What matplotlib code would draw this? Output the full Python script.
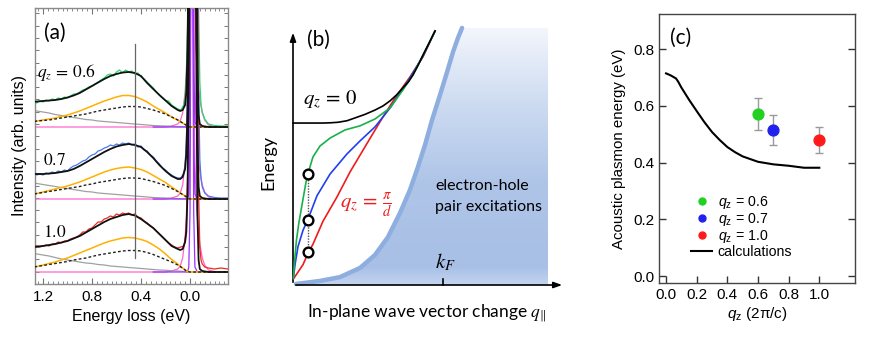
import numpy as np
import matplotlib
matplotlib.use("Agg")
import matplotlib.pyplot as plt
from matplotlib.colors import LinearSegmentedColormap
from matplotlib.lines import Line2D
from matplotlib.patches import Polygon
from matplotlib.ticker import MultipleLocator

plt.rcParams["font.family"] = ["Liberation Sans", "DejaVu Sans"]
plt.rcParams["mathtext.fontset"] = "custom"
plt.rcParams["mathtext.rm"] = "Liberation Sans"
plt.rcParams["mathtext.it"] = "Liberation Sans:italic"
plt.rcParams["mathtext.bf"] = "Liberation Sans:bold"

# ---------------- panel (a): RIXS spectra (heights above each baseline) ----------------
SPEC_LABELS = ["$q_z\\,=\\,0.6$", "$0.7$", "$1.0$"]
SPEC_OFFSET = [157, 85, 12]
DATA_COLORS = ["#27d86b", "#4a78ec", "#ee2a22"]

# data grid: every 0.025 eV down to 0.05, then the elastic line
DATA_E = list(np.round(np.arange(1.275, 0.04, -0.025), 3)) + [
    0.04, 0.03, 0.02, 0.01, 0.0, -0.02, -0.04, -0.06, -0.07, -0.08, -0.09, -0.1,
    -0.12, -0.15, -0.2, -0.25, -0.31]
DATA_06 = [25, 24, 26, 25, 27, 26, 28, 27, 29, 28, 30, 29,
           31, 33, 33, 35, 37, 38, 40, 41,
           43, 45, 47, 49, 52, 53, 51, 55,
           57, 54, 57, 55, 56, 53, 54, 50,
           48, 45, 42, 39, 35, 32, 29, 26.5,
           26, 22, 20, 18, 17, 22,
           30, 50, 100, 250, 400, 400, 400, 400, 120, 45, 22, 15, 8, 3, 1.5, 1, 1]
DATA_07 = [26, 24, 25, 24, 26, 25, 27, 26, 28, 27, 29, 28,
           31, 33, 34, 36, 38, 39, 42, 44,
           45, 48, 49, 51, 52, 54, 53, 55,
           54, 56, 55, 56, 54, 55, 52, 53,
           49, 48, 44, 42, 38, 35, 31, 29,
           26, 24, 22, 21, 21, 26,
           35, 55, 110, 250, 400, 400, 400, 400, 110, 40, 20, 12, 6, 3, 1.5, 1, 1]
DATA_10 = [25, 26, 25, 26, 27, 26, 28, 28, 30, 29, 31, 31,
           33, 34, 35, 37, 40, 40, 43, 44,
           47, 50, 50, 53, 54, 56, 55, 58,
           57, 59, 58, 59, 57, 58, 55, 54,
           51, 49, 46, 44, 41, 38, 35, 32,
           29, 27, 25, 24, 25, 26,
           32, 45, 90, 200, 400, 400, 400, 400, 80, 25, 12, 8, 5, 4, 3, 4, 3]

FIT_E = [1.27, 1.25, 1.2, 1.15, 1.1, 1.05, 1.0, 0.95, 0.9, 0.85, 0.8, 0.75, 0.7, 0.65,
         0.6, 0.55, 0.5, 0.45, 0.4, 0.35, 0.3, 0.25, 0.2, 0.15, 0.1,
         0.08, 0.06, 0.04, 0.03, 0.02, 0.01, 0.0, -0.01, -0.02, -0.03, -0.04, -0.05,
         -0.06, -0.07, -0.08, -0.1, -0.15, -0.31]
FIT_06 = [25, 25.5, 26, 26.5, 27, 28, 29.5, 31.5, 34, 37.5, 41, 44.5, 48, 51,
          53, 54.5, 55, 54, 51, 44, 38, 32, 26.5, 21, 17,
          16, 17, 22, 35, 80, 200, 400, 400, 400, 400, 400, 250, 60, 12, 3, 1, 0, 0]
FIT_07 = [25, 25, 25, 25.5, 26, 27, 28, 30, 33, 36.5, 40, 43.5, 47, 50,
          52.5, 54, 55, 54, 52, 47, 41, 34, 28, 23, 20,
          20, 22, 30, 45, 90, 200, 400, 400, 400, 400, 400, 250, 60, 12, 3, 1, 0, 0]
FIT_10 = [25, 25.5, 26, 27, 28, 29.5, 31, 33.5, 36, 39.5, 43, 46.5, 50, 53,
          55, 57, 58, 56.5, 53, 48.5, 44, 38, 32, 26, 23,
          22, 23, 30, 40, 80, 200, 400, 400, 400, 400, 400, 250, 60, 12, 3, 1, 0, 0]

COMP_E = FIT_E[:25] + [0.08, 0.06, 0.04, 0.02, 0.0, -0.31]
ORANGE_06 = [5.5, 6, 7, 8, 9, 10.5, 12, 14, 16, 18.5, 21, 23.5, 26, 28, 30, 31.5, 31.5,
             30.5, 28, 25, 21, 17.5, 14, 10, 7, 5.5, 4, 2.5, 1, 0, 0]
ORANGE_07 = [5, 5.5, 7, 8.5, 10, 11.5, 13, 15, 17, 19.5, 22, 24.5, 27, 29, 30.5, 31.5, 32,
             31, 29.5, 27, 23.5, 20, 16.5, 12, 8, 6, 4.5, 3, 1, 0, 0]
ORANGE_10 = [5, 5.5, 7, 8.5, 10, 12, 14, 16.5, 19, 21.5, 24, 26.5, 29, 31, 32.5, 34, 34.5,
             34, 32.5, 30.5, 27, 23, 18, 12.5, 8, 5.5, 4, 2, 0.5, 0, 0]
DASHED_06 = [5.5, 6, 6.5, 7, 8, 9, 10, 11, 12, 13, 14.5, 16, 17, 18, 19, 20, 20.5,
             20.5, 20, 18.5, 17, 15, 13, 10, 7, 5.5, 4, 2.5, 1, 0, 0]
DASHED_07 = [5, 5.5, 6.5, 7.5, 8.5, 9.5, 10.5, 11.5, 12.5, 14, 15, 16.5, 17.5, 18.5, 19.5,
             20.5, 21, 21, 20.5, 19, 17.5, 15.5, 13.5, 10.5, 7.5, 6, 4.5, 3, 1, 0, 0]
DASHED_10 = [5, 5.5, 6.5, 7.5, 8.5, 9.5, 10.5, 12, 13, 14, 15.5, 17, 18, 19, 20, 21, 21.5,
             21.5, 21, 19.5, 17.5, 15, 12.5, 10, 7, 5.5, 4, 2, 0.5, 0, 0]
GRAY_06 = [16.5, 16, 15, 14, 12.5, 11.5, 10.5, 9.5, 8.5, 7.5, 7, 6, 5.5, 5, 4.5, 4, 3.5,
           3, 2.5, 2, 1.5, 1.2, 1, 0.7, 0.4, 0.3, 0.2, 0.1, 0, 0, 0]
GRAY_07 = [16, 15.5, 14.5, 13.5, 12.5, 11.5, 10.5, 9.5, 8.5, 7.5, 7, 6, 5.5, 5, 4.5, 4, 3.5,
           3, 2.5, 2, 1.5, 1.2, 1, 0.7, 0.4, 0.3, 0.2, 0.1, 0, 0, 0]
GRAY_10 = [18.5, 18, 17, 16, 14.5, 13, 12, 11, 10, 9, 8.5, 7.5, 7, 6, 5.5, 5, 4.5,
           4, 3.5, 3, 2.5, 2, 1.7, 1.3, 1, 0.8, 0.6, 0.4, 0.2, 0, 0]

PINK_E = [1.27, 0.2, 0.15, 0.1, 0.08, 0.06, 0.04, 0.03, 0.02, 0.01, 0.0, -0.01, -0.02,
          -0.03, -0.04, -0.05, -0.06, -0.07, -0.08, -0.1, -0.12, -0.15, -0.2, -0.31]
PINK_H = [0, 0, 1, 3, 6, 14, 35, 55, 95, 200, 400, 400, 400, 200, 110, 75, 55, 40, 28,
          14, 7, 2, 0.5, 0]
PURPLE_E = [0.3, 0.02, 0.01, 0.0, -0.01, -0.02, -0.03, -0.04, -0.06, -0.1]
PURPLE_H = [0, 0, 5, 60, 400, 400, 60, 5, 0, 0]

SPECTRA = [
    (DATA_06, FIT_06, ORANGE_06, DASHED_06, GRAY_06),
    (DATA_07, FIT_07, ORANGE_07, DASHED_07, GRAY_07),
    (DATA_10, FIT_10, ORANGE_10, DASHED_10, GRAY_10),
]
PEAK_MARK_E = 0.45

# ---------------- panel (b): schematic dispersion (q in units of kF) ----------------
Q0_Q = [0, 0.2, 0.25, 0.3, 0.36, 0.413, 0.48, 0.547, 0.6, 0.647, 0.69, 0.733, 0.77, 0.8,
        0.833, 0.867, 0.9, 0.947]
Q0_E = [0.635, 0.635, 0.636, 0.638, 0.644, 0.655, 0.669, 0.686, 0.702, 0.722, 0.745,
        0.773, 0.797, 0.824, 0.86, 0.902, 0.94, 0.996]
GREEN_Q = [0.003, 0.01, 0.023, 0.04, 0.06, 0.087, 0.107, 0.133, 0.18, 0.247, 0.347, 0.447,
           0.547, 0.647, 0.733, 0.8, 0.867, 0.947]
GREEN_E = [0.027, 0.09, 0.176, 0.247, 0.314, 0.404, 0.451, 0.502, 0.545, 0.576, 0.608,
           0.624, 0.651, 0.694, 0.765, 0.824, 0.902, 0.996]
BLUE_Q = [0.003, 0.013, 0.033, 0.067, 0.1, 0.16, 0.247, 0.36, 0.447, 0.547, 0.647, 0.713,
          0.78, 0.867, 0.947]
BLUE_E = [0.027, 0.078, 0.15, 0.215, 0.258, 0.35, 0.435, 0.514, 0.565, 0.62, 0.694, 0.753,
          0.812, 0.898, 0.996]
RED_Q = [0.003, 0.067, 0.1, 0.133, 0.2, 0.293, 0.38, 0.46, 0.527, 0.6, 0.68, 0.78, 0.867,
         0.947]
RED_E = [0.024, 0.08, 0.125, 0.16, 0.25, 0.345, 0.443, 0.522, 0.588, 0.659, 0.733, 0.816,
         0.895, 0.996]
CIRCLE_Q = 0.1
CIRCLE_E = [0.434, 0.255, 0.128]
EH_Q = [0.02, 0.18, 0.313, 0.447, 0.547, 0.633, 0.713, 0.78, 0.833, 0.88, 0.927, 0.98,
        1.027, 1.067, 1.1, 1.127]
EH_E = [0.004, 0.016, 0.031, 0.067, 0.118, 0.188, 0.282, 0.373, 0.463, 0.549, 0.647,
        0.745, 0.835, 0.914, 0.969, 1.008]
EH_RIGHT = 1.7
KF = 1.0

# ---------------- panel (c): acoustic plasmon energy ----------------
QZ = [0.6, 0.7, 1.0]
E_PLASMON = [0.571, 0.515, 0.480]
E_ERR = [0.057, 0.052, 0.047]
QZ_COLORS = ["#22d022", "#2222ee", "#ff1a1a"]
QZ_LABELS = ["$q_\\mathrm{z}$ = 0.6", "$q_\\mathrm{z}$ = 0.7", "$q_\\mathrm{z}$ = 1.0"]
CALC_Q = [0.0, 0.03, 0.065, 0.08, 0.1, 0.15, 0.2, 0.25, 0.3, 0.35, 0.4, 0.45, 0.5, 0.6,
          0.7, 0.8, 0.9, 1.0]
CALC_E = [0.715, 0.708, 0.697, 0.685, 0.665, 0.622, 0.582, 0.543, 0.508, 0.48, 0.455,
          0.437, 0.422, 0.403, 0.394, 0.389, 0.382, 0.382]

fig = plt.figure(figsize=(8.72, 3.39), dpi=100)

# ================= (a) =================
axa = fig.add_axes([35 / 872, 55 / 339, 193 / 872, 276 / 339])
for (data, fit, orange, dashed, gray), off, col in zip(SPECTRA, SPEC_OFFSET, DATA_COLORS):
    axa.plot(PINK_E, np.array(PINK_H) + off, color="#ff66cc", lw=0.9, zorder=2.1)
    axa.plot(COMP_E, np.array(gray) + off, color="#a0a0a0", lw=0.9, zorder=2.2)
    axa.plot(PURPLE_E, np.array(PURPLE_H) + off, color="#9b30ff", lw=0.9, zorder=2.3)
    axa.plot(COMP_E, np.array(orange) + off, color="#ffb000", lw=1.1, zorder=2.5)
    axa.plot(COMP_E, np.array(dashed) + off, color="#222222", lw=1.0, ls=(0, (2, 1.6)), zorder=2.6)
    axa.plot(DATA_E, np.array(data) + off, color=col, lw=0.9, zorder=2.7)
    axa.plot(FIT_E, np.array(fit) + off, color="#111111", lw=1.3, zorder=3)
axa.plot([PEAK_MARK_E, PEAK_MARK_E], [26, 240], color="#666666", lw=0.9, zorder=4)

axa.set_xlim(1.265, -0.31)
axa.set_ylim(0, 276)
axa.xaxis.set_minor_locator(MultipleLocator(0.04))
axa.yaxis.set_major_locator(MultipleLocator(12.3))
axa.tick_params(axis="x", which="major", direction="in", length=4, width=0.8,
                top=True, labelsize=11, pad=4, color="#777777")
axa.tick_params(axis="x", which="minor", direction="in", length=2, width=0.6,
                top=True, color="#777777")
axa.tick_params(axis="y", direction="in", length=3, width=0.7, right=True,
                labelleft=False, color="#777777")
axa.set_xticks([1.2, 0.8, 0.4, 0.0])
axa.set_xticklabels(["1.2", "0.8", "0.4", "0.0"])
for sp in axa.spines.values():
    sp.set_color("#8a8a8a")
    sp.set_linewidth(1.0)
axa.set_xlabel("Energy loss (eV)", fontsize=11.5, labelpad=4)
axa.set_ylabel("Intensity (arb. units)", fontsize=11.5, labelpad=6)
axa.text(1.19, 251, "(a)", fontsize=15, family=["Lato", "DejaVu Sans"], va="center")
axa.text(1.25, 211, SPEC_LABELS[0], fontsize=12.5, va="center", math_fontfamily="stix")
axa.text(1.2, 124, SPEC_LABELS[1], fontsize=12.5, va="center", math_fontfamily="stix")
axa.text(1.2, 52, SPEC_LABELS[2], fontsize=12.5, va="center", math_fontfamily="stix")

# ================= (b) =================
axb = fig.add_axes([285 / 872, 44 / 339, 287 / 872, 275 / 339])
axb.set_xlim(-0.0533, 1.86)
axb.set_ylim(-0.0392, 1.039)
axb.axis("off")

grad = np.linspace(0, 1, 256).reshape(-1, 1)
eh_cmap = LinearSegmentedColormap.from_list(
    "eh", [(0, "#c3d4ef"), (0.07, "#a8bfe6"), (0.4, "#afc5e8"), (0.7, "#cddbf1"), (1.0, "#f3f6fc")])
im = axb.imshow(grad, extent=[0, EH_RIGHT, 0, EH_E[-1]], origin="lower", aspect="auto",
                cmap=eh_cmap, zorder=0)
verts = list(zip(EH_Q, EH_E)) + [(EH_RIGHT, EH_E[-1]), (EH_RIGHT, 0), (EH_Q[0], 0)]
clip = Polygon(verts, closed=True, facecolor="none", edgecolor="none", transform=axb.transData)
axb.add_patch(clip)
im.set_clip_path(clip)
axb.plot(EH_Q, EH_E, color="#8eaee0", lw=3.2, solid_capstyle="round", zorder=1)

axb.annotate("", xy=(0, 1.0), xytext=(0, 0),
             arrowprops=dict(arrowstyle="-|>,head_length=0.5,head_width=0.18", color="black", lw=1.2))
axb.annotate("", xy=(1.813, 0), xytext=(0, 0),
             arrowprops=dict(arrowstyle="-|>,head_length=0.5,head_width=0.18", color="black", lw=1.2))
axb.plot([KF, KF], [0, 0.022], color="black", lw=1.2)

axb.plot(RED_Q, RED_E, color="#ee1c1c", lw=1.2, zorder=3)
axb.plot(BLUE_Q, BLUE_E, color="#1f3ff0", lw=1.2, zorder=3.1)
axb.plot(GREEN_Q, GREEN_E, color="#19b04a", lw=1.2, zorder=3.2)
axb.plot(Q0_Q, Q0_E, color="black", lw=1.2, zorder=3.3)
axb.plot([CIRCLE_Q, CIRCLE_Q], [CIRCLE_E[0], CIRCLE_E[-1]], color="#555555", lw=1.0,
         ls=(0, (1, 1)), zorder=3.5)
axb.plot([CIRCLE_Q] * 3, CIRCLE_E, "o", ms=7, mfc="white", mec="black", mew=1.7, zorder=4)

sans_b = ["Lato", "DejaVu Sans"]
axb.text(0.167, 0.961, "(b)", fontsize=15, family=sans_b, ha="center", va="center")
axb.text(0.067, 0.725, "$q_z\\,=\\,0$", fontsize=15, va="center", math_fontfamily="stix")
axb.text(0.313, 0.314, "$q_z\\,=\\,\\frac{\\pi}{d}$", fontsize=15, va="center",
         color="#ee1c1c", math_fontfamily="stix")
axb.text(0.947, 0.39, "electron-hole", fontsize=11.5, family=sans_b, va="center")
axb.text(0.947, 0.305, "pair excitations", fontsize=11.5, family=sans_b, va="center")
axb.text(1.013, 0.09, "$k_F$", fontsize=15, ha="center", va="center", math_fontfamily="stix")
axb.text(-0.167, 0.482, "Energy", fontsize=13, family=sans_b, rotation=90,
         ha="center", va="center")
axb.text(0.893, -0.11, "In-plane wave vector change $q_{\\|}$", fontsize=12.5, family=sans_b,
         ha="center", va="center", math_fontfamily="stix")

# ================= (c) =================
axc = fig.add_axes([659 / 872, 56 / 339, 196 / 872, 269 / 339])
axc.plot(CALC_Q, CALC_E, color="black", lw=1.5, zorder=2)
for q, e, err, col in zip(QZ, E_PLASMON, E_ERR, QZ_COLORS):
    axc.errorbar(q, e, yerr=err, fmt="o", ms=7.8, color=col, mec=col, ecolor="#9a9a9a",
                 elinewidth=1.0, capsize=3, capthick=1.0, zorder=3)
axc.set_xlim(-0.046, 1.233)
axc.set_ylim(-0.0247, 0.9245)
axc.set_xticks([0.0, 0.2, 0.4, 0.6, 0.8, 1.0])
axc.set_yticks([0.0, 0.2, 0.4, 0.6, 0.8])
axc.tick_params(direction="in", length=5, width=1.0, labelsize=11, right=True, color="#333333")
for sp in axc.spines.values():
    sp.set_color("#444444")
    sp.set_linewidth(1.0)
axc.set_xlabel("$q_\\mathrm{z}$ (2π/c)", fontsize=11, labelpad=2)
axc.set_ylabel("Acoustic plasmon energy (eV)", fontsize=10.8, labelpad=5)
axc.text(0.026, 0.84, "(c)", fontsize=15, family=["Lato", "DejaVu Sans"], va="center")

handles = [Line2D([], [], ls="none", marker="o", ms=5, color=c) for c in QZ_COLORS]
handles.append(Line2D([], [], color="black", lw=1.5))
axc.legend(handles, QZ_LABELS + ["calculations"], loc="upper left",
           bbox_to_anchor=(0.165, 0.33), frameon=False, fontsize=10.2, handlelength=1.45,
           handletextpad=0.4, labelspacing=0.0, borderpad=0, borderaxespad=0)

fig.savefig("out.png", dpi=100, facecolor="white")
